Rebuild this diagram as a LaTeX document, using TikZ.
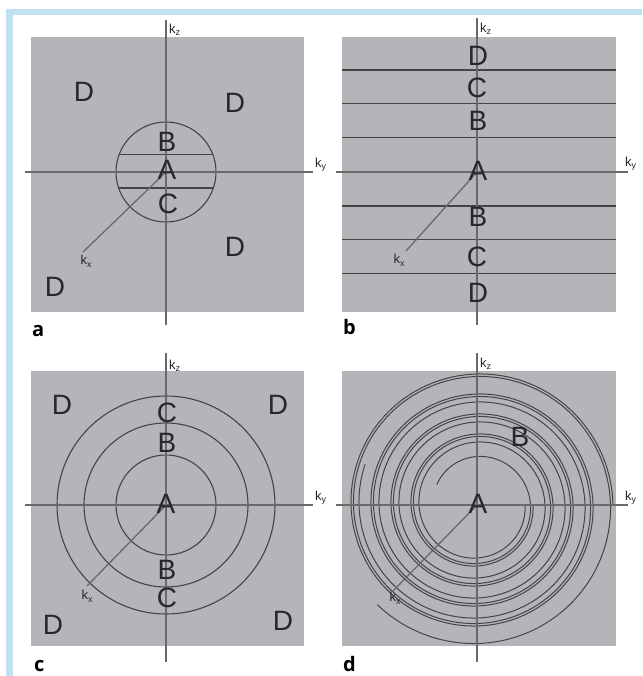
\documentclass[tikz,border=0pt]{standalone}
\usepackage{fontspec}
\setmainfont{Liberation Sans}
\newfontfamily\lblfont{Open Sans}
\definecolor{panelgray}{RGB}{180,181,185}
\definecolor{framebl}{RGB}{193,225,240}
\definecolor{axisgray}{RGB}{105,105,108}
\definecolor{linegray}{RGB}{68,68,70}
\definecolor{txtgray}{RGB}{40,40,42}
\newcommand\klab[1]{k\raisebox{-0.35ex}{\fontsize{9}{9}\selectfont #1}}
\begin{document}
\begin{tikzpicture}[x=1pt,y=-1pt,
  panel/.style={fill=panelgray,draw=none},
  axis/.style={draw=axisgray,line width=1.3pt},
  zone/.style={draw=linegray,line width=1.1pt},
  spir/.style={draw=linegray,line width=1pt,smooth},
  big/.style={inner sep=0pt,text=txtgray,font=\fontsize{28}{28}\selectfont},
  klbl/.style={inner sep=0pt,anchor=west,text=txtgray,font=\fontsize{13}{13}\selectfont},
  plbl/.style={inner sep=0pt,anchor=base west,text=black,font=\lblfont\bfseries\fontsize{20}{20}\selectfont},
]
\useasboundingbox (0,0) rectangle (642,676);
\fill[white] (0,0) rectangle (642,676);
% frame
\fill[framebl] (6,9) rectangle (642,15);
\fill[framebl] (6,9) rectangle (13,676);

% ---------------- panel a ----------------
\fill[panel] (31,37) rectangle (304,312);
\coordinate (aO) at (166,172);
\coordinate (aT) at (166,20);
\coordinate (aB) at (166,325);
\coordinate (aL) at (25,172);
\coordinate (aR) at (313,172);
\coordinate (aX) at (83,252);
\draw[zone] (aO) circle[radius=50pt];
\coordinate (aC1l) at (119.2,154.5);
\coordinate (aC1r) at (212.8,154.5);
\coordinate (aC2l) at (119.2,188);
\coordinate (aC2r) at (212.8,188);
\draw[zone] (aC1l) -- (aC1r);
\draw[zone] (aC2l) -- (aC2r);
\draw[axis] (aT) -- (aB);
\draw[axis] (aL) -- (aR);
\draw[axis] (aO) -- (aX);
\node[klbl] (akz) at (169,30) {\klab{z}};
\node[klbl] (aky) at (315,165) {\klab{y}};
\node[klbl,anchor=north] (akx) at (86,255) {\klab{x}};
\node[big] (aA) at (167,170) {A};
\node[big] (aBl) at (167,142) {B};
\node[big] (aCl) at (168,204) {C};
\node[big] (aD1) at (84,92) {D};
\node[big] (aD2) at (235,103) {D};
\node[big] (aD3) at (235,247) {D};
\node[big] (aD4) at (55,287) {D};
\node[plbl] (alab) at (32,336) {a};

% ---------------- panel b ----------------
\fill[panel] (342,37) rectangle (616,312);
\coordinate (bO) at (477,172);
\coordinate (bT) at (477,18);
\coordinate (bB) at (477,325);
\coordinate (bL) at (336,172);
\coordinate (bR) at (628,172);
\coordinate (bX) at (406,251);
\foreach \yy/\nm in {70/1,103.5/2,137.5/3,206/4,239.5/5,273.5/6}{
  \coordinate (bl\nm) at (342,\yy);
  \coordinate (br\nm) at (616,\yy);
  \draw[zone] (bl\nm) -- (br\nm);
}
\draw[axis] (bT) -- (bB);
\draw[axis] (bL) -- (bR);
\draw[axis] (bO) -- (bX);
\node[klbl] (bkz) at (480,29) {\klab{z}};
\node[klbl] (bky) at (625,164) {\klab{y}};
\node[klbl,anchor=north] (bkx) at (399,254) {\klab{x}};
\node[big] (bD1) at (478,56) {D};
\node[big] (bC1) at (477,88) {C};
\node[big] (bB1) at (478,121) {B};
\node[big] (bA) at (478,171) {A};
\node[big] (bB2) at (478,217) {B};
\node[big] (bC2) at (477,257) {C};
\node[big] (bD2) at (478,293) {D};
\node[plbl] (blab) at (343,334) {b};

% ---------------- panel c ----------------
\fill[panel] (31,371) rectangle (304,646);
\coordinate (cO) at (166,505);
\coordinate (cT) at (166,353);
\coordinate (cB) at (166,662);
\coordinate (cL) at (25,505);
\coordinate (cR) at (313,505);
\coordinate (cX) at (87,586);
\draw[zone] (cO) circle[radius=50pt];
\draw[zone] (cO) circle[radius=82pt];
\draw[zone] (cO) circle[radius=109pt];
\draw[axis] (cT) -- (cB);
\draw[axis] (cL) -- (cR);
\draw[axis] (cO) -- (cX);
\node[klbl] (ckz) at (169,366) {\klab{z}};
\node[klbl] (cky) at (315,498) {\klab{y}};
\node[klbl,anchor=north] (ckx) at (87,590) {\klab{x}};
\node[big] (cA) at (166,504) {A};
\node[big] (cC1) at (167,413) {C};
\node[big] (cB1) at (167,443) {B};
\node[big] (cB2) at (167,570) {B};
\node[big] (cC2) at (167,598) {C};
\node[big] (cD1) at (62,405) {D};
\node[big] (cD2) at (278,405) {D};
\node[big] (cD3) at (53,625) {D};
\node[big] (cD4) at (283,621) {D};
\node[plbl] (clab) at (34,671) {c};

% ---------------- panel d ----------------
\fill[panel] (342,371) rectangle (616,646);
\coordinate (dO) at (477,505);
\coordinate (dT) at (477,353);
\coordinate (dB) at (477,662);
\coordinate (dL) at (336,505);
\coordinate (dR) at (628,505);
\coordinate (dX) at (393,591);
\begin{scope}[shift={(dO)}]
\draw[spir] plot[domain=-1440:0,samples=360] ({(136+\x/18)*cos(\x)},{(136+\x/18)*sin(\x)});
\draw[spir] plot[domain=-1593:135,samples=420] ({(141+(\x-135)/18)*cos(\x)},{(141+(\x-135)/18)*sin(\x)});
\draw[spir] plot[domain=-1080:200,samples=320] ({(108+\x/18)*cos(\x)},{(108+\x/18)*sin(\x)});
\end{scope}
\draw[axis] (dT) -- (dB);
\draw[axis] (dL) -- (dR);
\draw[axis] (dO) -- (dX);
\node[klbl] (dkz) at (480,364) {\klab{z}};
\node[klbl] (dky) at (625,498) {\klab{y}};
\node[klbl,anchor=north] (dkx) at (395,592) {\klab{x}};
\node[big] (dA) at (478,504) {A};
\node[big] (dBl) at (520,437) {B};
\node[plbl] (dlab) at (343,671) {d};
\end{tikzpicture}
\end{document}
